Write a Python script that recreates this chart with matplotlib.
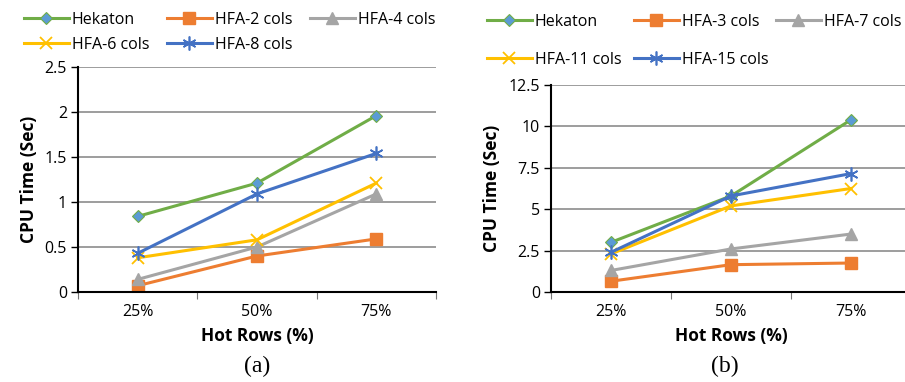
import matplotlib.pyplot as plt

plt.rcParams['font.family'] = ['Open Sans', 'DejaVu Sans']

categories = ["25%", "50%", "75%"]

# panel (a)
labels_a = ["Hekaton", "HFA-2 cols", "HFA-4 cols", "HFA-6 cols", "HFA-8 cols"]
hekaton_a = [0.84, 1.21, 1.96]
hfa2 = [0.07, 0.40, 0.59]
hfa4 = [0.14, 0.50, 1.09]
hfa6 = [0.38, 0.58, 1.21]
hfa8 = [0.43, 1.09, 1.54]
yticks_a = [0, 0.5, 1, 1.5, 2, 2.5]
yticklabels_a = ["0", "0.5", "1", "1.5", "2", "2.5"]

# panel (b)
labels_b = ["Hekaton", "HFA-3 cols", "HFA-7 cols", "HFA-11 cols", "HFA-15 cols"]
hekaton_b = [3.0, 5.8, 10.4]
hfa3 = [0.65, 1.65, 1.75]
hfa7 = [1.3, 2.6, 3.5]
hfa11 = [2.3, 5.2, 6.25]
hfa15 = [2.4, 5.8, 7.15]
yticks_b = [0, 2.5, 5, 7.5, 10, 12.5]
yticklabels_b = ["0", "2.5", "5", "7.5", "10", "12.5"]

colors = ["#70AD47", "#ED7D31", "#A5A5A5", "#FFC000", "#4472C4"]
styles = [
    dict(marker="D", ms=6.5, mfc="#5B9BD5", mec="#70AD47", mew=0.8),
    dict(marker="s", ms=8),
    dict(marker="^", ms=8),
    dict(marker="x", ms=9, mew=1.3),
    dict(marker=(6, 2, 0), ms=10, mew=1.2),
]

W, H = 905, 382
fig = plt.figure(figsize=(W / 100, H / 100), dpi=100)


def draw(ax, series, labels, yticks, yticklabels, caption, cap_x, leg_cols, leg_rows):
    x = range(1, len(categories) + 1)
    handles = []
    for vals, lab, col, st in zip(series, labels, colors, styles):
        h, = ax.plot(x, vals, color=col, lw=2.2, label=lab, **st)
        handles.append(h)
    ax.set_xlim(0.5, 3.5)
    ax.set_ylim(yticks[0], yticks[-1])
    ax.set_yticks(yticks)
    ax.set_yticklabels(yticklabels, fontsize=11.5)
    ax.set_xticks(list(x))
    ax.set_xticklabels(categories, fontsize=11.5)
    ax.set_xticks([0.5, 1.5, 2.5, 3.5], minor=True)
    ax.tick_params(axis="x", which="major", length=0, pad=9)
    ax.tick_params(axis="x", which="minor", length=5, width=0.8, color="#777777")
    ax.tick_params(axis="y", length=5, width=1, color="black", pad=3)
    ax.grid(axis="y", color="#8c8c8c", lw=1.2)
    ax.set_axisbelow(True)
    for s in ["top", "right"]:
        ax.spines[s].set_visible(False)
    ax.spines["left"].set_linewidth(1.5)
    ax.spines["bottom"].set_linewidth(1.5)
    ax.set_xlabel("Hot Rows (%)", fontsize=12.5, fontweight="bold", labelpad=5)
    ax.set_ylabel("CPU Time (Sec)", fontsize=12.5, fontweight="bold", labelpad=5)
    fig.text(cap_x / W, 1 - 366 / H, caption, ha="center", va="center",
             fontsize=17, family="Liberation Serif")
    # one legend per entry, laid out row by row like the original
    for i, (h, lab) in enumerate(zip(handles, labels)):
        px = leg_cols[i % 3]
        py = leg_rows[i // 3]
        fig.legend(handles=[h], labels=[lab], loc="center left",
                   bbox_to_anchor=(px / W, 1 - py / H), frameon=False,
                   fontsize=11.5, handlelength=2.8, handletextpad=0.2,
                   borderpad=0, borderaxespad=0)


ax1 = fig.add_axes([78 / W, 1 - 292 / H, 358 / W, 225 / H])
ax2 = fig.add_axes([551 / W, 1 - 292 / H, 360 / W, 207 / H])

draw(ax1, [hekaton_a, hfa2, hfa4, hfa6, hfa8], labels_a, yticks_a, yticklabels_a,
     "(a)", 257, [24, 167, 310], [20, 45])
draw(ax2, [hekaton_b, hfa3, hfa7, hfa11, hfa15], labels_b, yticks_b, yticklabels_b,
     "(b)", 725, [487, 634, 776], [22, 60])

fig.savefig("out.png", dpi=100)
